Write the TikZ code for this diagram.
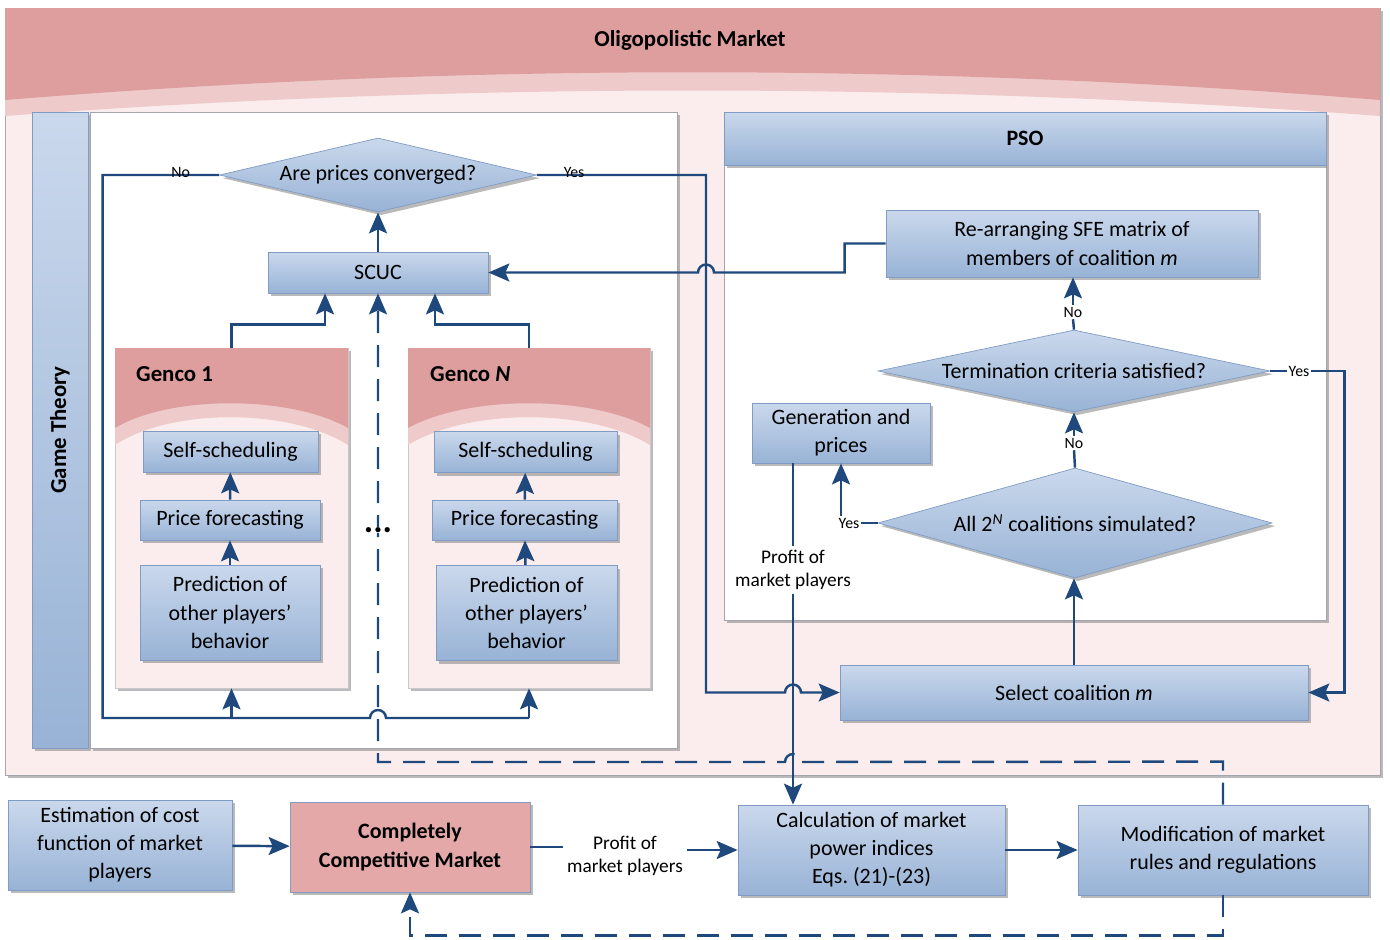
\documentclass[tikz,border=0pt]{standalone}
\usepackage{fontspec}
\setmainfont{Carlito}
\usetikzlibrary{shapes.geometric,arrows.meta,shadows}
\definecolor{arrowblue}{RGB}{31,73,125}
\definecolor{boxtop}{RGB}{202,216,236}
\definecolor{boxbot}{RGB}{152,179,214}
\definecolor{boxline}{RGB}{128,156,196}
\definecolor{headpink}{RGB}{222,158,158}
\definecolor{lightpink}{RGB}{238,202,202}
\definecolor{bodypink}{RGB}{251,237,237}
\definecolor{ccmpink}{RGB}{228,168,168}
\definecolor{panelgray}{RGB}{165,165,175}
\begin{document}
\begin{tikzpicture}[x=0.02cm,y=-0.02cm,
	font=\fontsize{12.5}{16}\selectfont,
	sz/.style 2 args={minimum width=#1*0.02cm,minimum height=#2*0.02cm},
	shade/.style={drop shadow={shadow xshift=1.8pt,shadow yshift=-1.8pt,fill=black!45,opacity=0.6}},
	blk/.style={rectangle,draw=boxline,top color=boxtop,bottom color=boxbot,
		align=center,inner sep=2pt,shade},
	dec/.style={diamond,draw=boxline,top color=boxtop,bottom color=boxbot,
		inner sep=0pt,shade},
	flow/.style={draw=arrowblue,line width=1.4pt},
	arr/.style={flow,-{Stealth[length=0.42cm,width=0.36cm,inset=0.08cm]}},
	dline/.style={dash pattern=on 0.44cm off 0.24cm},
	lbl/.style={font=\fontsize{9}{10}\selectfont,inner sep=1pt},
	note/.style={font=\fontsize{11}{13}\selectfont,align=center,inner sep=2pt},
	ttl/.style={font=\fontsize{13}{15}\selectfont\bfseries}]
\useasboundingbox (0,0) rectangle (1390,940);

% oligopolistic market frame
\path[fill=bodypink,draw=panelgray,shade] (5,8) rectangle (1380,775);
\fill[lightpink] (5,8) -- (1380,8) -- (1380,116) .. controls (925,82) and (460,82) .. (5,116) -- cycle;
\fill[headpink] (5,8) -- (1380,8) -- (1380,100) .. controls (925,63) and (460,63) .. (5,100) -- cycle;
\node[ttl] (om) at (690,40) {Oligopolistic Market};

% game theory side
\node[ttl,rotate=90,sz={636}{56},draw=boxline,top color=boxtop,bottom color=boxbot,shade] (gt) at (60,430) {Game Theory};
\path[fill=white,draw=panelgray,shade] (90,112) rectangle (677,748);

% gencos
\node[fill=bodypink,draw=panelgray!60,sz={233}{340},shade] (g1) at (231.5,518) {};
\fill[lightpink] (115,348) -- (348,348) -- (348,445) .. controls (290,408) and (170,408) .. (115,445) -- cycle;
\fill[headpink] (115,348) -- (348,348) -- (348,428) .. controls (290,395) and (170,395) .. (115,428) -- cycle;
\node[ttl,anchor=west] at (130,374) {Genco 1};
\node[fill=bodypink,draw=panelgray!60,sz={242}{340},shade] (gN) at (529,518) {};
\fill[lightpink] (408,348) -- (650,348) -- (650,445) .. controls (590,408) and (468,408) .. (408,445) -- cycle;
\fill[headpink] (408,348) -- (650,348) -- (650,428) .. controls (590,395) and (468,395) .. (408,428) -- cycle;
\node[ttl,anchor=west] at (424,374) {Genco \textit{N}};

\node[blk,sz={175}{41}] (s1) at (230.5,451.5) {Self-scheduling};
\node[blk,sz={180}{40}] (p1) at (230,520) {Price forecasting};
\node[blk,sz={180}{95}] (r1) at (230,612.5) {Prediction of\\other players'\\behavior};
\node[blk,sz={183}{41}] (sN) at (525.5,452) {Self-scheduling};
\node[blk,sz={185}{40}] (pN) at (524.5,520) {Price forecasting};
\node[blk,sz={181}{95}] (rN) at (526.5,613) {Prediction of\\other players'\\behavior};
\draw[arr] (p1) -- (s1);
\draw[arr] (r1) -- (p1);
\draw[arr] (pN) -- (sN);
\draw[arr] (rN) -- (pN);

\node[blk,sz={220}{41}] (scuc) at (378,272.5) {SCUC};
\node[dec,sz={317}{74}] (d1) at (378,175) {\makebox[0pt]{Are prices converged?}};

% PSO
\path[fill=white,draw=panelgray,shade] (724,165) rectangle (1326,620);
\node[blk,sz={602}{53},font=\fontsize{12.5}{15}\selectfont\bfseries] (pso) at (1025,138.5) {PSO};
\node[blk,sz={372}{67}] (re) at (1072,243.5) {Re-arranging SFE matrix of\\members of coalition \textit{m}};
\node[dec,sz={392}{82}] (d2) at (1074,371) {\makebox[0pt]{Termination criteria satisfied?}};
\node[blk,sz={178}{60}] (gen) at (841,433) {Generation and\\prices};
\node[dec,sz={394}{110}] (d3) at (1075,523) {\makebox[0pt]{All 2\textsuperscript{\itshape N} coalitions simulated?}};
\node[blk,sz={468}{55}] (sel) at (1074,692.5) {Select coalition \textit{m}};
\node[note] (pm2) at (793,570) {Profit of\\market players};

% bottom row
\node[blk,sz={224}{90}] (est) at (120,845) {Estimation of cost\\function of market\\players};
\node[rectangle,draw=boxline,fill=ccmpink,sz={240}{90},align=center,shade,
	font=\fontsize{12.5}{16}\selectfont\bfseries] (ccm) at (410,847) {Completely\\Competitive Market};
\node[note] (pm1) at (625,856) {Profit of\\market players};
\node[blk,sz={267}{90}] (calc) at (871.5,850) {Calculation of market\\power indices\\Eqs.\ (21)-(23)};
\node[blk,sz={290}{90}] (mod) at (1223,850) {Modification of market\\rules and regulations};

% dashed feedback
\draw[arr,dline] (mod.north) -- ++(0,-43) -- (801,762) arc[start angle=0,end angle=180,radius=0.16cm] -| (scuc.south);
\draw[arr,dline] (mod.south) -- ++(0,40) -| (ccm.south);

% game loop
\draw[arr] (scuc) -- (d1);
\draw[arr] (g1.north) -- ++(0,-23) -| ([xshift=-1.06cm]scuc.south);
\draw[arr] (gN.north) -- ++(0,-23) -| ([xshift=1.14cm]scuc.south);
\draw[flow] (d1.west) -- node[lbl,above=-3pt,pos=0.33]{No} ++(-116.5,0) -- ++(0,543)
	-- (370,718) arc[start angle=180,end angle=0,radius=0.16cm] -- (gN.south |- 0,718);
\draw[arr] (g1.south |- 0,718) -- (g1.south);
\draw[arr] (gN.south |- 0,718) -- (gN.south);
\draw[arr] (re.west) -- ++(-41,0) |- (714,272.5) arc[start angle=0,end angle=180,radius=0.16cm] -- (scuc.east);
\draw[arr] (d1.east) -- node[lbl,above=-3pt,pos=0.22]{Yes} (706,175) -- (706,692.5)
	-- (785,692.5) arc[start angle=180,end angle=0,radius=0.16cm] -- (sel.west);
\node[font=\fontsize{20}{20}\selectfont\bfseries,fill=white,inner sep=0pt] (dots) at (378,530) {...};

% PSO loop
\node[lbl] (n2) at (1073,312) {No};
\draw[flow] (d2.north) -- (n2.south);
\draw[arr] (n2.north) -- (n2.north |- re.south);
\node[lbl] (n3) at (1074,443) {No};
\draw[flow] (d3.north) -- (n3.south);
\draw[arr] (n3.north) -- (n3.north |- d2.south);
\draw[arr] (sel.north) -- (sel.north |- d3.south);
\node[lbl] (y2) at (1299,371) {Yes};
\draw[flow] (d2.east) -- (y2.west);
\draw[arr] (y2.east) -- ++(33,0) |- (sel.east);
\node[lbl] (y3) at (849,523) {Yes};
\draw[flow] (d3.west) -- (y3.east);
\draw[arr] (y3.north -| gen.south) -- (gen.south);

% market players
\draw[flow] (gen.south -| pm2) -- (pm2.north);
\draw[arr] (pm2.south) -- (pm2.south |- calc.north);
\draw[arr] (est) -- (ccm);
\draw[flow] (ccm.east) -- (ccm.east -| pm1.west);
\draw[arr] (pm1.east |- calc.west) -- (calc.west);
\draw[arr] (calc) -- (mod);
\end{tikzpicture}
\end{document}
